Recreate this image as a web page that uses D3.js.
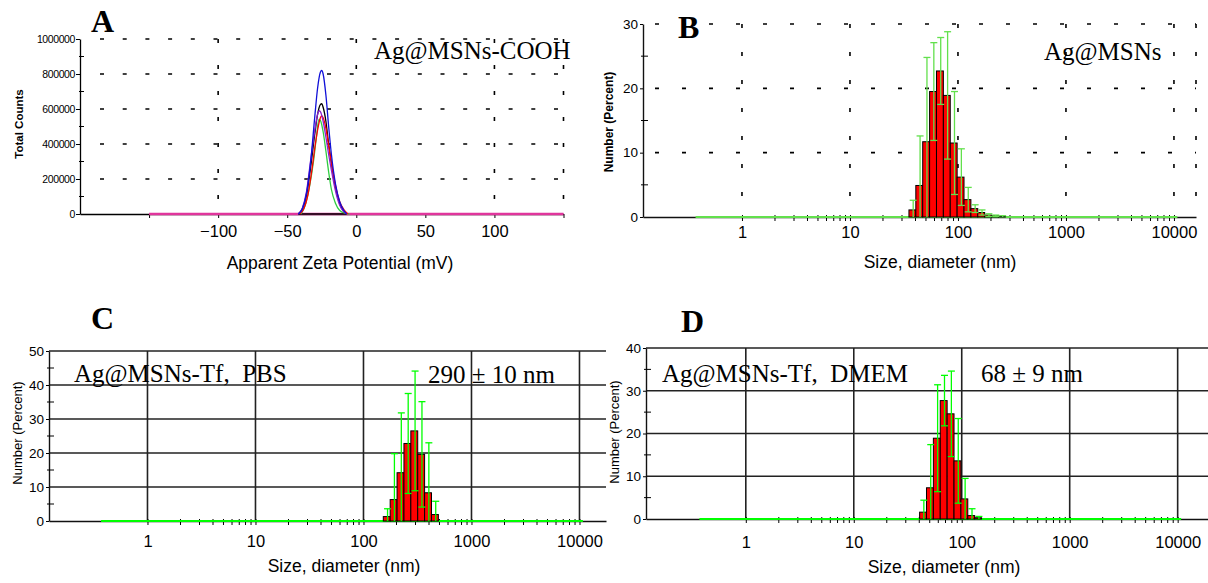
<!DOCTYPE html>
<html>
<head>
<meta charset="utf-8">
<script src="https://cdn.jsdelivr.net/npm/d3@7"></script>
<style>
  body { margin: 0; background: #fff; }
  svg { display: block; }
  text { font-family: "Liberation Sans", Arial, sans-serif; fill: #000; }
  .serif { font-family: "Liberation Serif", "Times New Roman", serif; white-space: pre; }
</style>
</head>
<body>
<svg id="chart" width="1208" height="583"></svg>
<script>
// ---- Panel A: zeta potential runs, [mV, total counts]
const zetaBlue   = [[-42,0],[-39,30000],[-36,120000],[-33,300000],[-30,560000],[-28,720000],[-26,810000],[-25,820000],[-24,800000],[-22,680000],[-20,500000],[-18,340000],[-15,170000],[-12,70000],[-9,20000],[-7,0]];
const zetaBlack  = [[-42,0],[-39,30000],[-36,110000],[-33,270000],[-30,460000],[-28,570000],[-26,625000],[-25,630000],[-24,610000],[-22,530000],[-20,400000],[-18,290000],[-15,150000],[-12,60000],[-9,15000],[-7,0]];
const zetaPurple = [[-42,0],[-39,35000],[-36,130000],[-33,310000],[-30,480000],[-28,570000],[-27,590000],[-26,585000],[-24,530000],[-22,440000],[-20,340000],[-18,250000],[-15,130000],[-12,50000],[-9,12000],[-7,0]];
const zetaRed    = [[-41,0],[-38,30000],[-35,110000],[-32,260000],[-30,380000],[-28,480000],[-26,550000],[-25,560000],[-24,550000],[-22,490000],[-20,390000],[-18,290000],[-15,160000],[-12,70000],[-9,25000],[-6,0]];
const zetaGreen  = [[-40,0],[-37,50000],[-34,150000],[-31,300000],[-29,430000],[-27,540000],[-26,535000],[-24,470000],[-22,360000],[-20,240000],[-18,140000],[-15,60000],[-12,20000],[-8,5000],[-5,0]];
const zetaBase   = [-42, -7];          // flat black stretch under the peaks
const zetaYTicks = [0, 200000, 400000, 600000, 800000, 1000000];
const zetaYMinor = [100000, 300000, 500000, 700000, 900000];
const zetaXTicks = [-150, -100, -50, 0, 50, 100, 150];
const zetaXLabels = [-100, -50, 0, 50, 100];

// ---- Panels B-D: size distributions by number
const sizeTicks = [1, 10, 100, 1000, 10000];
const sizeClasses = [0.4, 10000];      // first and last size class
const binRatio = 1.1581;

const bSize = [37.84, 43.82, 50.75, 58.77, 68.06, 78.82, 91.28, 105.7, 122.4, 141.8, 164.2, 190.1, 220.2, 255.0];
const bPct  = [1.1, 4.9, 11.7, 19.5, 22.7, 18.9, 11.5, 6.2, 2.7, 1.3, 0.7, 0.3, 0.2, 0.1];
const bSd   = [1.5, 7.7, 13.1, 7.6, 5.2, 9.9, 8.0, 4.4, 1.9, 0.6, 0.4, 0.2, 0.1, 0.1];

const cSize = [164.2, 190.1, 220.2, 255.0, 295.3, 342.0, 396.1, 458.7];
const cPct  = [1.3, 6.3, 14.2, 22.8, 26.5, 19.6, 8.3, 1.9];
const cSd   = [2.3, 13.5, 17.6, 14.7, 17.6, 15.5, 14.7, 3.9];

const dSize = [43.82, 50.75, 58.77, 68.06, 78.82, 91.28, 105.7, 122.4, 141.8];
const dPct  = [1.6, 7.3, 18.9, 27.7, 24.6, 13.6, 4.7, 0.8, 0.3];
const dSd   = [2.8, 10.1, 12.5, 5.9, 10.0, 9.9, 4.8, 1.6, 0.3];

const svg = d3.select("#chart");

function serifText(g, x, y, size, weight, str) {
  g.append("text").attr("class", "serif").attr("x", x).attr("y", y)
    .attr("font-size", size).attr("font-weight", weight).text(str);
}

function yTitle(g, x, y, size, weight, str) {
  g.append("text").attr("transform", `translate(${x},${y}) rotate(-90)`)
    .attr("text-anchor", "middle").attr("dominant-baseline", "central")
    .attr("font-size", size).attr("font-weight", weight).text(str);
}

// ================= Panel A =================
{
  const g = svg.append("g");
  const x = d3.scaleLinear().domain([-200, 150]).range([80, 563.5]);
  const y = d3.scaleLinear().domain([0, 1000000]).range([214, 39]);

  // dashed grid
  g.selectAll(".hg").data(zetaYTicks.filter(d => d > 0)).join("line")
    .attr("x1", x(-200) + 20).attr("x2", x(150))
    .attr("y1", d => y(d)).attr("y2", d => y(d))
    .attr("stroke", "#000").attr("stroke-width", 1.6).attr("stroke-dasharray", "4,18.7");
  g.selectAll(".vg").data([-100, 0, 100, 150]).join("line")
    .attr("x1", d => x(d)).attr("x2", d => x(d))
    .attr("y1", y(1000000)).attr("y2", y(0))
    .attr("stroke", "#000").attr("stroke-width", 1.6).attr("stroke-dasharray", "4,22");

  // axes
  const yAxis = g.append("g").attr("transform", `translate(${x(-200)},0)`)
    .call(d3.axisLeft(y).tickValues(zetaYTicks).tickSize(4).tickSizeOuter(0).tickPadding(1).tickFormat(d3.format("d")));
  yAxis.selectAll("text").attr("font-size", 10.5).attr("letter-spacing", -0.4);
  g.selectAll(".ym").data(zetaYMinor).join("line")
    .attr("x1", x(-200) - 1).attr("x2", x(-200) + 4)
    .attr("y1", d => y(d)).attr("y2", d => y(d)).attr("stroke", "#000");

  const xAxis = g.append("g").attr("transform", `translate(0,${y(0)})`)
    .call(d3.axisBottom(x).tickValues(zetaXTicks).tickSize(4).tickSizeOuter(0).tickPadding(7)
      .tickFormat(d => zetaXLabels.includes(d) ? (d < 0 ? "\u2212" + (-d) : d) : ""));
  xAxis.selectAll("text").attr("font-size", 16.5);
  g.selectAll(".domain").attr("stroke", "#000").attr("stroke-width", 1.3);

  // curves
  g.append("line").attr("x1", x(-150)).attr("x2", x(150)).attr("y1", y(0)).attr("y2", y(0))
    .attr("stroke", "#e0359c").attr("stroke-width", 2.4);
  g.append("line").attr("x1", x(zetaBase[0])).attr("x2", x(zetaBase[1])).attr("y1", y(0)).attr("y2", y(0))
    .attr("stroke", "#000").attr("stroke-width", 1.4);

  const line = d3.line().x(d => x(d[0])).y(d => y(d[1])).curve(d3.curveMonotoneX);
  [[zetaGreen, "#2ecc40"], [zetaBlack, "#000"], [zetaRed, "#ff0000"], [zetaPurple, "#8a1fd0"], [zetaBlue, "#1010d8"]]
    .forEach(([data, col]) => {
      g.append("path").datum(data).attr("d", line)
        .attr("fill", "none").attr("stroke", col).attr("stroke-width", 1.3);
    });

  serifText(g, 91, 32, 32, "bold", "A");
  serifText(g, 374, 59, 25, "normal", "Ag@MSNs-COOH");
  yTitle(g, 19, 124, 11.5, "bold", "Total Counts");
  g.append("text").attr("x", 340).attr("y", 269).attr("text-anchor", "middle")
    .attr("font-size", 17.5).text("Apparent Zeta Potential (mV)");
}

// ================= Panels B, C, D =================
function sizePanel(p) {
  const g = svg.append("g");
  const x = d3.scaleLog().domain(p.xDomain).range(p.xRange);
  const y = d3.scaleLinear().domain([0, p.yMax]).range(p.yRange);
  const [x0, x1] = p.xRange;

  // grid
  g.selectAll(".hg").data(p.yTicks.filter(d => d > 0)).join("line")
    .attr("x1", x0 + p.hGridStart).attr("x2", x1)
    .attr("y1", d => y(d)).attr("y2", d => y(d))
    .attr("stroke", p.gridColor).attr("stroke-width", p.gridWidth).attr("stroke-dasharray", p.dashH);
  g.selectAll(".vg").data(p.vGrid).join("line")
    .attr("x1", d => x(d)).attr("x2", d => x(d))
    .attr("y1", y(p.yMax)).attr("y2", y(0))
    .attr("stroke", p.gridColor).attr("stroke-width", p.gridWidth).attr("stroke-dasharray", p.dashV);

  // y axis
  const yAxis = g.append("g").attr("transform", `translate(${x0},0)`)
    .call(d3.axisLeft(y).tickValues(p.yTicks).tickSize(3).tickSizeOuter(0).tickPadding(2));
  yAxis.selectAll("text").attr("font-size", 13.5);
  g.selectAll(".ym").data(p.yMinor).join("line")
    .attr("x1", x0 - 2).attr("x2", x0 + 5)
    .attr("y1", d => y(d)).attr("y2", d => y(d)).attr("stroke", "#000");

  // x axis: log ticks between 1 and 10000
  const ticks = x.ticks().filter(d => d >= 1 && d <= 10000);
  const xAxis = g.append("g").attr("transform", `translate(0,${y(0)})`)
    .call(d3.axisBottom(x).tickValues(ticks).tickSize(4).tickSizeOuter(0).tickPadding(p.labelPad)
      .tickFormat(d => sizeTicks.includes(d) ? d3.format("d")(d) : ""));
  xAxis.selectAll("text").attr("font-size", 16.5);
  xAxis.selectAll(".tick line").attr("y1", -2);
  g.selectAll(".domain").attr("stroke", "#111").attr("stroke-width", 1.4);

  // green baseline over the whole size range
  const half = Math.sqrt(binRatio);
  g.append("line")
    .attr("x1", x(sizeClasses[0] / half)).attr("x2", x(sizeClasses[1] * half))
    .attr("y1", y(0)).attr("y2", y(0))
    .attr("stroke", p.green).attr("stroke-width", 2.2);

  // bars
  const rows = p.size.map((s, i) => ({ s, v: p.pct[i], sd: p.sd[i] }));
  g.selectAll(".bar").data(rows).join("rect")
    .attr("x", d => x(d.s / half))
    .attr("width", d => x(d.s * half) - x(d.s / half))
    .attr("y", d => y(d.v))
    .attr("height", d => y(0) - y(d.v))
    .attr("fill", "#ff0000").attr("stroke", "#000").attr("stroke-width", 1);

  // error bars
  const eb = g.selectAll(".eb").data(rows).join("g")
    .attr("transform", d => `translate(${x(d.s) + 0.8},0)`);
  eb.append("line").attr("y1", d => y(d.v + d.sd)).attr("y2", d => y(Math.max(0, d.v - d.sd)))
    .attr("stroke", p.green).attr("stroke-width", 1.3);
  eb.append("line").attr("x1", -3.5).attr("x2", 3.5)
    .attr("y1", d => y(d.v + d.sd)).attr("y2", d => y(d.v + d.sd))
    .attr("stroke", p.green).attr("stroke-width", 1.3);
  eb.filter(d => d.v - d.sd > 0).append("line").attr("x1", -3.5).attr("x2", 3.5)
    .attr("y1", d => y(d.v - d.sd)).attr("y2", d => y(d.v - d.sd))
    .attr("stroke", p.green).attr("stroke-width", 1.3);

  // texts
  serifText(g, p.letter[0], p.letter[1], 32, "bold", p.letter[2]);
  p.notes.forEach(n => serifText(g, n[0], n[1], 25, "normal", n[2]));
  yTitle(g, p.yTitle[0], p.yTitle[1], p.yTitle[2], p.yTitle[3], "Number (Percent)");
  g.append("text").attr("x", p.xTitle[0]).attr("y", p.xTitle[1]).attr("text-anchor", "middle")
    .attr("font-size", 17.5).text("Size, diameter (nm)");
}

sizePanel({
  xDomain: [0.1212, 16000], xRange: [643, 1196],
  yMax: 30, yRange: [217, 24], yTicks: [0, 10, 20, 30], yMinor: [5, 15, 25],
  gridColor: "#000", gridWidth: 1.6, dashH: "4,23", dashV: "4,24", hGridStart: 12,
  vGrid: [1, 10, 100, 1000, 10000, 16000],
  green: "#62e04c", labelPad: 5,
  size: bSize, pct: bPct, sd: bSd,
  letter: [678, 38, "B"], notes: [[1044, 60, "Ag@MSNs"]],
  yTitle: [609, 122, 12, "bold"], xTitle: [940, 268]
});

sizePanel({
  xDomain: [0.1225, 17600], xRange: [49, 606],
  yMax: 50, yRange: [521, 351], yTicks: [0, 10, 20, 30, 40, 50], yMinor: [5, 15, 25, 35, 45],
  gridColor: "#222", gridWidth: 1.6, dashH: null, dashV: null, hGridStart: 0,
  vGrid: sizeTicks,
  green: "#00ff00", labelPad: 10,
  size: cSize, pct: cPct, sd: cSd,
  letter: [91, 329, "C"], notes: [[74, 382, "Ag@MSNs-Tf,  PBS"], [428, 383, "290 \u00b1 10 nm"]],
  yTitle: [17, 433, 13, "normal"], xTitle: [344, 572]
});

sizePanel({
  xDomain: [0.119, 19100], xRange: [646, 1208],
  yMax: 40, yRange: [519, 348], yTicks: [0, 10, 20, 30, 40], yMinor: [5, 15, 25, 35],
  gridColor: "#222", gridWidth: 1.6, dashH: null, dashV: null, hGridStart: 0,
  vGrid: sizeTicks,
  green: "#00ff00", labelPad: 13,
  size: dSize, pct: dPct, sd: dSd,
  letter: [681, 332, "D"], notes: [[662, 382, "Ag@MSNs-Tf,  DMEM"], [981, 382, "68 \u00b1 9 nm"]],
  yTitle: [614, 432, 13, "normal"], xTitle: [944, 573]
});
</script>
</body>
</html>
